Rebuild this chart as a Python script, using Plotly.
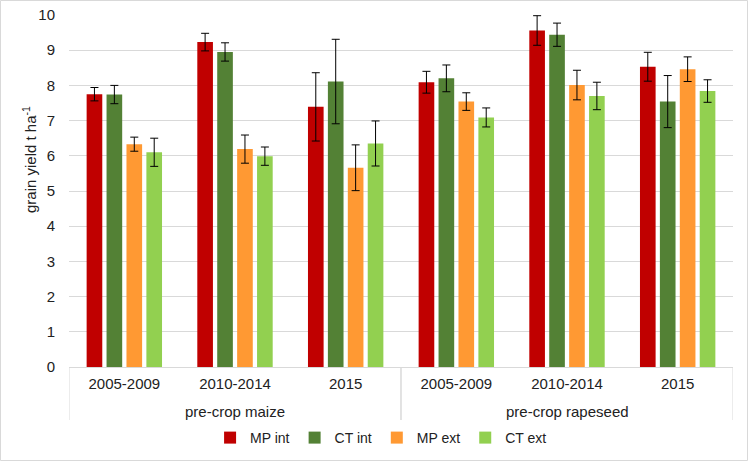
import plotly.graph_objects as go

precrops = ["pre-crop maize"] * 3 + ["pre-crop rapeseed"] * 3
periods = ["2005-2009", "2010-2014", "2015", "2005-2009", "2010-2014", "2015"]

series_names = ["MP int", "CT int", "MP ext", "CT ext"]
colors = ["#C00000", "#538135", "#FF9933", "#92D050"]

mp_int = [7.75, 9.23, 7.39, 8.09, 9.56, 8.53]
ct_int = [7.74, 8.95, 8.11, 8.20, 9.44, 7.54]
mp_ext = [6.33, 6.19, 5.66, 7.54, 8.01, 8.46]
ct_ext = [6.10, 5.99, 6.35, 7.09, 7.70, 7.84]

mp_int_err = [0.19, 0.25, 0.97, 0.31, 0.42, 0.41]
ct_int_err = [0.26, 0.26, 1.20, 0.38, 0.33, 0.74]
mp_ext_err = [0.20, 0.40, 0.65, 0.25, 0.42, 0.35]
ct_ext_err = [0.40, 0.26, 0.64, 0.27, 0.39, 0.32]

values = [mp_int, ct_int, mp_ext, ct_ext]
errors = [mp_int_err, ct_int_err, mp_ext_err, ct_ext_err]

FONT = "Liberation Sans, Arial, sans-serif"
TXT = "#222222"
GRID = "#D9D9D9"

# unique category keys; the axis shows only the period text
cat_keys = [f"{c} | {p}" for c, p in zip(precrops, periods)]

fig = go.Figure()
for name, col, v, e in zip(series_names, colors, values, errors):
    fig.add_trace(go.Bar(
        x=cat_keys, y=v, name=name,
        marker=dict(color=col, line=dict(width=0)),
        error_y=dict(type="data", array=e, visible=True, color="#000000",
                     thickness=1, width=4),
    ))

W, H = 748, 461
ml, mr, mt, mb = 69, 15, 15, 94
pw, ph = W - ml - mr, H - mt - mb

# group labels and dividers for the two pre-crop groups
groups = []
for i, c in enumerate(precrops):
    if not groups or groups[-1][0] != c:
        groups.append([c, i, i])
    else:
        groups[-1][2] = i

div_bottom = -(420 - (mt + ph)) / ph
annotations = [dict(
    text="grain yield t ha<sup>-1</sup>", textangle=-90,
    xref="paper", yref="paper",
    x=(29 - ml) / pw, y=(mt + ph - 160) / ph,
    xanchor="center", yanchor="middle", showarrow=False,
    font=dict(size=15, color=TXT),
)]
shapes = [dict(type="rect", xref="paper", yref="paper",
               x0=(0.5 - ml) / pw, x1=(W - 0.5 - ml) / pw,
               y0=(mt + ph - (H - 0.5)) / ph, y1=(mt + ph - 0.5) / ph,
               line=dict(color=GRID, width=1), layer="below")]
for name, i0, i1 in groups:
    annotations.append(dict(
        text=name, xref="x", yref="paper", x=(i0 + i1) / 2,
        y=-(411 - (mt + ph)) / ph, xanchor="center", yanchor="middle",
        showarrow=False, font=dict(size=15, color=TXT)))
    for xb in (i0 - 0.5, i1 + 0.5):
        shapes.append(dict(type="line", xref="x", yref="paper",
                           x0=xb, x1=xb, y0=0, y1=div_bottom,
                           line=dict(color=GRID, width=1)))

fig.update_layout(
    width=W, height=H,
    margin=dict(l=ml, r=mr, t=mt, b=mb, autoexpand=False),
    paper_bgcolor="white", plot_bgcolor="white",
    font=dict(family=FONT, size=15, color=TXT),
    barmode="group", bargap=0.28, bargroupgap=0.215,
    showlegend=True,
    legend=dict(orientation="h", x=0.47, xanchor="center",
                yref="container", y=1 - 438 / H, yanchor="middle",
                font=dict(size=14, color=TXT),
                itemwidth=30, tracegroupgap=0,
                bgcolor="rgba(0,0,0,0)"),
    xaxis=dict(type="category", range=[-0.5, len(cat_keys) - 0.5],
               tickmode="array", tickvals=cat_keys, ticktext=periods,
               showline=True, linecolor=GRID, linewidth=1,
               tickfont=dict(size=15, color=TXT), ticklabelstandoff=3,
               showgrid=False, ticks="", automargin=False),
    yaxis=dict(range=[0, 10], dtick=1, showgrid=True, gridcolor=GRID,
               gridwidth=1, zeroline=False, showline=False,
               tickfont=dict(size=15, color=TXT), ticks="",
               ticklabelstandoff=13, automargin=False),
    annotations=annotations,
    shapes=shapes,
)

fig.write_html("out.html", config={"displayModeBar": False},
               post_script="document.body.style.margin='0px';")
